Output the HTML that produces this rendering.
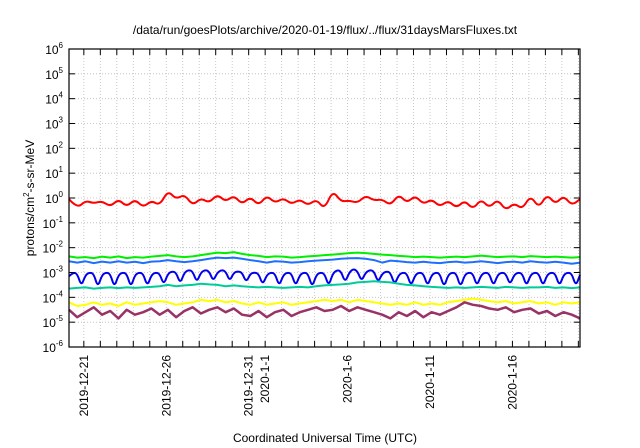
<!DOCTYPE html>
<html><head><meta charset="utf-8"><style>
body{margin:0;background:#fff;}
svg{display:block;font-family:"Liberation Sans",sans-serif;}
</style></head><body>
<svg id="chart" width="640" height="448" viewBox="0 0 640 448">
<rect width="640" height="448" fill="#fff"/>
<text x="325" y="34" font-size="12" text-anchor="middle">/data/run/goesPlots/archive/2020-01-19/flux/../flux/31daysMarsFluxes.txt</text>
<g id="grid"></g>
<g id="series"></g>
<g id="axes"></g>
<text x="325" y="442" font-size="12" text-anchor="middle">Coordinated Universal Time (UTC)</text>
<text transform="translate(34,198) rotate(-90)" font-size="12" text-anchor="middle">protons/cm<tspan font-size="8" dy="-5">2</tspan><tspan dy="5">-s-sr-MeV</tspan></text>
</svg>
<script>
const yExponents=[-6,-5,-4,-3,-2,-1,0,1,2,3,4,5,6];
const dateLabels=["2019-12-21","2019-12-26","2019-12-31","2020-1-1","2020-1-6","2020-1-11","2020-1-16"];
const dateLabelDays=[0,5,10,11,16,21,26];
const startOffset=-0.9;
const spanDays=31;
const redLog=[-0.05,-0.42,-0.1,-0.22,-0.12,-0.35,-0.05,-0.35,-0.05,-0.38,-0.1,-0.3,0.3,-0.05,0.15,-0.3,0.0,-0.2,0.15,-0.15,0.1,-0.25,0.05,-0.3,0.1,-0.2,0.0,-0.25,-0.05,-0.3,-0.05,-0.45,0.3,-0.15,-0.1,-0.2,0.1,-0.1,-0.05,-0.3,0.15,-0.2,0.1,-0.25,-0.05,-0.35,-0.1,-0.4,-0.1,-0.45,-0.05,-0.4,-0.05,-0.5,-0.2,-0.45,0.1,-0.4,0.15,-0.25,0.1,-0.3,-0.05];
const greenLog=[-2.35,-2.4,-2.38,-2.42,-2.36,-2.4,-2.35,-2.42,-2.38,-2.4,-2.36,-2.33,-2.3,-2.35,-2.38,-2.35,-2.3,-2.25,-2.2,-2.22,-2.18,-2.25,-2.3,-2.33,-2.38,-2.35,-2.36,-2.4,-2.38,-2.35,-2.33,-2.3,-2.28,-2.25,-2.22,-2.2,-2.22,-2.25,-2.28,-2.3,-2.33,-2.35,-2.38,-2.36,-2.38,-2.4,-2.38,-2.36,-2.38,-2.35,-2.32,-2.35,-2.38,-2.36,-2.35,-2.38,-2.34,-2.36,-2.38,-2.36,-2.38,-2.4,-2.38];
const lightBlueLog=[-2.55,-2.6,-2.55,-2.62,-2.56,-2.6,-2.55,-2.6,-2.57,-2.62,-2.56,-2.55,-2.5,-2.55,-2.58,-2.55,-2.5,-2.45,-2.4,-2.42,-2.4,-2.45,-2.5,-2.55,-2.6,-2.55,-2.56,-2.6,-2.58,-2.55,-2.52,-2.5,-2.48,-2.45,-2.43,-2.42,-2.45,-2.5,-2.6,-2.52,-2.55,-2.58,-2.6,-2.57,-2.6,-2.62,-2.58,-2.56,-2.6,-2.58,-2.55,-2.58,-2.62,-2.58,-2.56,-2.6,-2.55,-2.58,-2.6,-2.57,-2.6,-2.65,-2.6];
const blueLog=[-3.15,-3.0,-3.05,-3.55,-3.1,-3.0,-3.05,-3.6,-3.1,-3.0,-3.05,-3.6,-3.1,-3.0,-3.05,-3.6,-3.1,-3.0,-3.05,-3.55,-3.1,-3.0,-3.05,-3.5,-3.05,-2.95,-3.0,-3.45,-3.0,-2.9,-2.95,-3.4,-3.0,-2.9,-2.95,-3.35,-3.0,-2.9,-2.95,-3.35,-3.0,-2.95,-3.0,-3.4,-3.05,-3.0,-3.05,-3.5,-3.1,-3.0,-3.05,-3.55,-3.1,-3.0,-3.05,-3.55,-3.1,-3.0,-3.05,-3.6,-3.1,-3.0,-3.05,-3.55,-3.05,-2.9,-2.95,-3.4,-3.0,-2.85,-2.95,-3.35,-3.0,-2.9,-2.95,-3.4,-3.05,-2.95,-3.0,-3.5,-3.1,-3.0,-3.05,-3.55,-3.1,-3.0,-3.05,-3.55,-3.1,-3.0,-3.05,-3.6,-3.1,-3.0,-3.05,-3.6,-3.1,-3.0,-3.05,-3.55,-3.1,-3.0,-3.05,-3.55,-3.1,-3.0,-3.05,-3.5,-3.1,-3.0,-3.05,-3.55,-3.1,-3.0,-3.05,-3.55,-3.1,-3.0,-3.05,-3.55,-3.1,-3.0,-3.05,-3.55,-3.1];
const tealLog=[-3.65,-3.62,-3.6,-3.65,-3.62,-3.6,-3.63,-3.6,-3.62,-3.6,-3.58,-3.55,-3.5,-3.55,-3.52,-3.5,-3.45,-3.48,-3.5,-3.55,-3.52,-3.55,-3.58,-3.6,-3.58,-3.6,-3.62,-3.6,-3.58,-3.6,-3.55,-3.52,-3.5,-3.48,-3.45,-3.4,-3.38,-3.35,-3.38,-3.4,-3.45,-3.5,-3.52,-3.55,-3.58,-3.6,-3.62,-3.6,-3.62,-3.6,-3.58,-3.6,-3.62,-3.58,-3.6,-3.62,-3.6,-3.6,-3.58,-3.62,-3.6,-3.63,-3.6];
const yellowLog=[-4.2,-4.35,-4.3,-4.2,-4.3,-4.25,-4.35,-4.2,-4.3,-4.25,-4.2,-4.15,-4.2,-4.3,-4.25,-4.2,-4.1,-4.15,-4.1,-4.2,-4.15,-4.25,-4.3,-4.2,-4.3,-4.25,-4.2,-4.3,-4.25,-4.2,-4.15,-4.1,-4.15,-4.1,-4.2,-4.1,-4.15,-4.2,-4.25,-4.3,-4.25,-4.3,-4.2,-4.3,-4.25,-4.3,-4.2,-4.15,-4.1,-4.05,-4.1,-4.15,-4.2,-4.15,-4.25,-4.2,-4.15,-4.25,-4.2,-4.3,-4.2,-4.25,-4.2];
const purpleLog=[-4.5,-4.8,-4.6,-4.4,-4.7,-4.55,-4.85,-4.5,-4.7,-4.6,-4.45,-4.7,-4.5,-4.8,-4.55,-4.4,-4.65,-4.5,-4.4,-4.6,-4.45,-4.7,-4.75,-4.55,-4.8,-4.6,-4.5,-4.75,-4.6,-4.5,-4.4,-4.55,-4.5,-4.35,-4.55,-4.4,-4.5,-4.6,-4.7,-4.85,-4.6,-4.75,-4.55,-4.8,-4.6,-4.7,-4.55,-4.4,-4.2,-4.3,-4.35,-4.45,-4.5,-4.4,-4.6,-4.5,-4.45,-4.65,-4.55,-4.75,-4.6,-4.7,-4.85];
const seriesDefs=[
 {name:"series-red",data:redLog,color:"#ff0000",w:2,smooth:true},
 {name:"series-green",data:greenLog,color:"#00ee00",w:2,smooth:false},
 {name:"series-light-blue",data:lightBlueLog,color:"#1f6fff",w:2,smooth:false},
 {name:"series-blue",data:blueLog,color:"#0000ee",w:2,smooth:true},
 {name:"series-teal",data:tealLog,color:"#00cc99",w:2,smooth:false},
 {name:"series-yellow",data:yellowLog,color:"#ffff00",w:2,smooth:false},
 {name:"series-purple",data:purpleLog,color:"#993366",w:2.5,smooth:false}
];
const L=69,R=580,T=49,B=347;
const xOf=d=>L+(d-startOffset)/spanDays*(R-L);
const yOf=e=>B-(e+6)/12*(B-T);
const NS="http://www.w3.org/2000/svg";
function mk(tag,attrs,parent){const el=document.createElementNS(NS,tag);for(const k in attrs)el.setAttribute(k,attrs[k]);parent.appendChild(el);return el;}
const grid=document.getElementById('grid'),axes=document.getElementById('axes'),ser=document.getElementById('series');
for(let d=Math.ceil(startOffset);d<startOffset+spanDays;d++){
 const x=xOf(d);
 const g=mk('line',{x1:x,x2:x,y1:T,y2:B,stroke:'#bbb','stroke-dasharray':'1,2','stroke-width':0.8},grid);
 
 
 const t1=mk('line',{x1:x,x2:x,y1:B,y2:B-6,stroke:'#000'},axes);
 
 
 const t2=mk('line',{x1:x,x2:x,y1:T,y2:T+6,stroke:'#000'},axes);
 
 
}
yExponents.forEach(e=>{
 const y=yOf(e);
 if(e>-6&&e<6){const g=mk('line',{x1:L,x2:R,y1:y,y2:y,stroke:'#bbb','stroke-dasharray':'1,2','stroke-width':0.8},grid);
 
 }
 const t=mk('line',{x1:L,x2:L+6,y1:y,y2:y,stroke:'#000'},axes);
 
 
 const t2=mk('line',{x1:R,x2:R-6,y1:y,y2:y,stroke:'#000'},axes);
 
 
 const lb=mk('text',{x:L-6,y:y+5,'font-size':12,'text-anchor':'end'},axes);
 
 
 lb.innerHTML='10<tspan font-size="8" dy="-6">'+e+'</tspan>';
});
dateLabels.forEach((s,i)=>{
 const x=xOf(dateLabelDays[i]);
 const lb=mk('text',{transform:'translate('+(x+4)+','+(B+8)+') rotate(-90)','font-size':12,'text-anchor':'end'},axes);
 
 
 lb.textContent=s;
});
const frame=mk('rect',{x:L,y:T,width:R-L,height:B-T,fill:'none',stroke:'#000','stroke-width':1.2},axes);


seriesDefs.forEach(s=>{
 const n=s.data.length;
 const P=s.data.map((v,i)=>[xOf(startOffset+i*spanDays/(n-1)),yOf(v)]);
 let d='M'+P[0][0].toFixed(1)+','+P[0][1].toFixed(1);
 if(s.smooth){
  for(let i=1;i<n-1;i++){const mx=(P[i][0]+P[i+1][0])/2,my=(P[i][1]+P[i+1][1])/2;d+=' Q'+P[i][0].toFixed(1)+','+P[i][1].toFixed(1)+' '+mx.toFixed(1)+','+my.toFixed(1);}
  d+=' L'+P[n-1][0].toFixed(1)+','+P[n-1][1].toFixed(1);
 } else {
  for(let i=1;i<n;i++)d+=' L'+P[i][0].toFixed(1)+','+P[i][1].toFixed(1);
 }
 const p=mk('path',{d:d,fill:'none',stroke:s.color,'stroke-width':s.w,'stroke-linejoin':'round'},ser);
 
 
});
</script>
</body></html>
